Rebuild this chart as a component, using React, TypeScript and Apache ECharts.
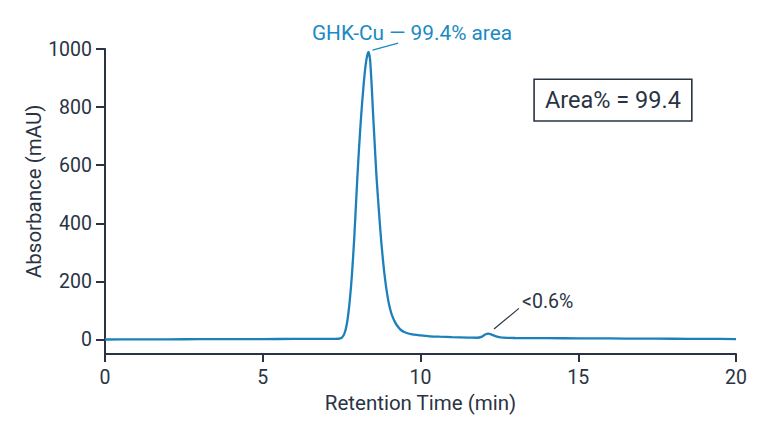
import React, { useEffect, useRef } from "react";
import * as echarts from "echarts";

const times = [0, 1, 2, 3, 4, 5, 6, 7, 7.3, 7.4, 7.45, 7.5, 7.55, 7.6, 7.65, 7.7, 7.75, 7.8, 7.85, 7.9, 7.95, 8.0, 8.05, 8.1, 8.15, 8.2, 8.25, 8.3, 8.35, 8.4, 8.45, 8.5, 8.55, 8.6, 8.65, 8.7, 8.75, 8.8, 8.85, 8.9, 8.95, 9.0, 9.05, 9.1, 9.2, 9.3, 9.4, 9.5, 9.7, 10, 10.3, 10.6, 11, 11.5, 11.8, 11.95, 12.05, 12.15, 12.25, 12.4, 12.55, 12.75, 13, 14, 15, 16, 17, 18, 19, 20];
const absorbance = [0, 0.3, 0.6, 0.9, 1.2, 1.5, 1.8, 2.1, 2.3, 2.5, 3.5, 6, 12, 24, 45, 78, 125, 185, 260, 350, 455, 560, 655, 740, 815, 880, 935, 972, 990, 965, 880, 770, 670, 570, 490, 415, 345, 285, 232, 188, 152, 122, 100, 82, 58, 42, 31, 25, 18, 14, 11, 9.5, 8, 6.5, 6, 10, 17, 20, 17, 11, 7, 5.5, 5, 4.5, 4, 3.5, 3, 2.5, 2, 1.5];

const yTicks = [0, 200, 400, 600, 800, 1000];

const xTitle = "Retention Time (min)";
const yTitle = "Absorbance (mAU)";
const mainLabel = "GHK-Cu — 99.4% area";
const minorLabel = "<0.6%";
const boxLabel = "Area% = 99.4";

const AXIS = "#2a3344";
const BLUE = "#1c80ba";
const LABEL_BLUE = "#1a8ac4";
const FONT = "Roboto, 'Noto Sans', sans-serif";

export default function App() {
  const ref = useRef<HTMLDivElement>(null);
  useEffect(() => {
    if (!ref.current) return;
    const chart = echarts.init(ref.current, undefined, { renderer: "svg" });
    const data = times.map((t, i) => [t, absorbance[i]]);
    chart.setOption({
      animation: false,
      backgroundColor: "#ffffff",
      textStyle: { fontFamily: FONT },
      grid: { left: 105, right: 32, top: 49, bottom: 75 },
      xAxis: {
        type: "value",
        min: 0,
        max: 20,
        interval: 5,
        name: xTitle,
        nameLocation: "middle",
        nameGap: 38,
        nameTextStyle: { fontSize: 20.5, color: AXIS, fontFamily: FONT },
        axisLine: { show: true, onZero: false, lineStyle: { color: AXIS, width: 2 } },
        axisTick: { show: true, length: 8, lineStyle: { color: AXIS, width: 2 } },
        axisLabel: { fontSize: 19.5, color: AXIS, margin: 13, fontFamily: FONT },
        splitLine: { show: false },
      },
      yAxis: {
        type: "value",
        min: -50,
        max: 1000,
        axisLine: { show: true, onZero: false, lineStyle: { color: AXIS, width: 2 } },
        axisTick: { show: true, length: 9, customValues: yTicks, lineStyle: { color: AXIS, width: 2 } },
        axisLabel: {
          fontSize: 19.5,
          color: AXIS,
          margin: 13,
          customValues: yTicks,
          fontFamily: FONT,
          formatter: (v: number) => String(v),
        },
        splitLine: { show: false },
      },
      series: [
        {
          type: "line",
          data,
          smooth: 0.2,
          showSymbol: false,
          lineStyle: { color: BLUE, width: 2.3 },
          itemStyle: { color: BLUE },
        },
      ],
    });

    const p = (x: number, y: number) => chart.convertToPixel({ gridIndex: 0 }, [x, y]) as number[];
    const a1 = p(8.48, 996);
    const a2 = p(9.29, 1020);
    const t1 = p(9.73, 1055);
    const b1 = p(12.33, 36);
    const b2 = p(13.12, 107);
    const t2 = p(13.22, 130);
    const box = p(13.6, 896);
    const boxEnd = p(18.6, 752);
    const yName = p(0, 510);

    chart.setOption({
      graphic: [
        {
          type: "text",
          x: yName[0] - 71,
          y: yName[1],
          rotation: Math.PI / 2,
          style: { text: yTitle, fill: AXIS, fontSize: 20.5, fontFamily: FONT, align: "center", verticalAlign: "middle" },
        },
        { type: "line", shape: { x1: a1[0], y1: a1[1], x2: a2[0], y2: a2[1] }, style: { stroke: LABEL_BLUE, lineWidth: 1.3 } },
        {
          type: "text",
          x: t1[0],
          y: t1[1],
          style: { text: mainLabel, fill: LABEL_BLUE, fontSize: 20.8, fontFamily: FONT, align: "center", verticalAlign: "middle" },
        },
        { type: "line", shape: { x1: b1[0], y1: b1[1], x2: b2[0], y2: b2[1] }, style: { stroke: AXIS, lineWidth: 1.2 } },
        {
          type: "text",
          x: t2[0],
          y: t2[1],
          style: { text: minorLabel, fill: AXIS, fontSize: 19.5, fontFamily: FONT, align: "left", verticalAlign: "middle" },
        },
        {
          type: "rect",
          shape: { x: box[0], y: box[1], width: boxEnd[0] - box[0], height: boxEnd[1] - box[1] },
          style: { fill: "#ffffff", stroke: AXIS, lineWidth: 1.6 },
        },
        {
          type: "text",
          x: (box[0] + boxEnd[0]) / 2,
          y: (box[1] + boxEnd[1]) / 2,
          style: { text: boxLabel, fill: AXIS, fontSize: 23.5, fontFamily: FONT, align: "center", verticalAlign: "middle" },
        },
      ],
    });
    return () => chart.dispose();
  }, []);
  return <div ref={ref} style={{ width: 768, height: 429, position: "absolute", left: 0, top: 0 }} />;
}
